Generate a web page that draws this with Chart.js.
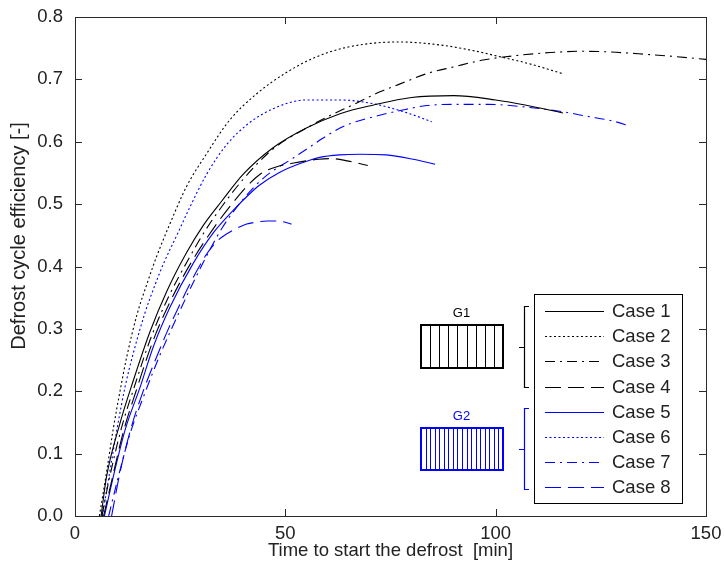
<!DOCTYPE html>
<html><head><meta charset="utf-8">
<script src="https://cdn.jsdelivr.net/npm/chart.js@4/dist/chart.umd.min.js"></script>
<style>html,body{margin:0;padding:0;background:#fff}#wrap{width:725px;height:567px;position:relative}</style>
</head><body><div id="wrap"><canvas id="c" width="725" height="567"></canvas></div>
<script>
// ---- data ----
const xTicks = [0, 50, 100, 150];
const yTicks = [0, 0.1, 0.2, 0.3, 0.4, 0.5, 0.6, 0.7, 0.8];
const caseNames = ['Case 1','Case 2','Case 3','Case 4','Case 5','Case 6','Case 7','Case 8'];
const groupNames = ['G1','G2'];
const xTitle = 'Time to start the defrost  [min]';
const yTitle = 'Defrost cycle efficiency [-]';

const case1T = [6.2,7.5,10.7,13.9,17.8,21.8,26.5,30.5,34.9,40,47,55,63,71,80,90,100,107,116];
const case1E = [0,0.063,0.149,0.218,0.295,0.36,0.422,0.466,0.505,0.548,0.59,0.622,0.645,0.659,0.671,0.674,0.667,0.659,0.646];
const case2T = [5.8,7.5,9.1,10.7,12.3,14.7,17.4,19.4,22.6,26.5,31.3,36.8,43.2,50,57,65,77,87,94,100.6,108,116];
const case2E = [0,0.07,0.14,0.2,0.255,0.322,0.378,0.416,0.469,0.528,0.581,0.635,0.677,0.71,0.735,0.752,0.76,0.755,0.747,0.737,0.725,0.709];
const case3T = [6.4,8,11,14,18,22,27,31,35,40,47,55,60,66,72.5,77,84,90,97,106,113,120,127,134,142,150];
const case3E = [0,0.055,0.14,0.205,0.285,0.348,0.412,0.458,0.497,0.54,0.588,0.622,0.64,0.659,0.68,0.692,0.71,0.72,0.731,0.739,0.743,0.745,0.744,0.741,0.737,0.732];
const case4T = [6.8,8.5,11.5,14.5,18.5,22.5,27.5,33,36.8,40.8,44,48,52,58,61,65,69.6];
const case4E = [0,0.05,0.135,0.2,0.28,0.342,0.405,0.462,0.496,0.528,0.548,0.56,0.566,0.572,0.573,0.569,0.562];
const case5T = [7,9,12,15.5,18.6,22.6,28.1,33,37.6,41.6,44,48.7,53.5,58.2,63,67.7,74,80.4,85.6];
const case5E = [0,0.06,0.14,0.207,0.271,0.335,0.405,0.455,0.49,0.517,0.531,0.551,0.565,0.575,0.579,0.58,0.579,0.572,0.564];
const case6T = [6.5,8,10,11.9,13.9,16.6,19,21,24.2,27.3,31.3,36,41.2,47.1,55,63,70.9,75.7,80.4,84.8];
const case6E = [0,0.06,0.14,0.207,0.262,0.325,0.37,0.404,0.45,0.495,0.548,0.595,0.629,0.653,0.667,0.667,0.661,0.653,0.643,0.632];
const case7T = [8,10,13,16.5,20,25,30,35,40,45,51.9,55.9,59,63,65.4,71.5,77.3,83.6,90,98,106.6,116,121.6,128,132];
const case7E = [0,0.055,0.13,0.195,0.255,0.33,0.4,0.462,0.508,0.543,0.574,0.592,0.606,0.622,0.629,0.641,0.65,0.658,0.66,0.66,0.656,0.648,0.641,0.633,0.625];
const case8T = [8.7,10.7,13.5,16.2,19.4,22.2,25,27.3,29.7,31.3,33.7,36,38.4,40.8,43,45.6,48,50,51.5];
const case8E = [0,0.07,0.145,0.2,0.255,0.3,0.34,0.372,0.402,0.42,0.44,0.452,0.461,0.468,0.471,0.473,0.473,0.471,0.468];

// ---- styles ----
const BLACK = '#000000', BLUE = '#0000ff';
const DOT = [2,2.5], DASHDOT = [10,5,2,5], DASH = [16,7], SOLID = [];
const series = [
  [case1T, case1E, BLACK, SOLID], [case2T, case2E, BLACK, DOT],
  [case3T, case3E, BLACK, DASHDOT], [case4T, case4E, BLACK, DASH],
  [case5T, case5E, BLUE, SOLID], [case6T, case6E, BLUE, DOT],
  [case7T, case7E, BLUE, DASHDOT], [case8T, case8E, BLUE, DASH]
];
const FONT = "'Liberation Sans', Arial, Helvetica, sans-serif";
const TXT = '#222222';

const datasets = series.map((s, i) => ({
  label: caseNames[i],
  data: s[0].map((t, k) => ({x: t, y: s[1][k]})),
  borderColor: s[2], borderDash: s[3], borderWidth: 1.1,
  pointRadius: 0, fill: false, cubicInterpolationMode: 'monotone'
}));

const framePlugin = {
  id: 'frame',
  afterDatasetsDraw(chart) {
    const {ctx, chartArea: a, scales: {x, y}} = chart;
    ctx.save();
    ctx.strokeStyle = '#2a2a2a'; ctx.lineWidth = 1; ctx.setLineDash([]);
    ctx.strokeRect(Math.round(a.left)+0.5, Math.round(a.top)+0.5, Math.round(a.right-a.left), Math.round(a.bottom-a.top));
    const L = 7;
    ctx.beginPath();
    xTicks.forEach(v => { const px = Math.round(x.getPixelForValue(v))+0.5;
      ctx.moveTo(px, a.bottom); ctx.lineTo(px, a.bottom-L);
      ctx.moveTo(px, a.top); ctx.lineTo(px, a.top+L); });
    yTicks.forEach(v => { const py = Math.round(y.getPixelForValue(v))+0.5;
      ctx.moveTo(a.left, py); ctx.lineTo(a.left+L, py);
      ctx.moveTo(a.right, py); ctx.lineTo(a.right-L, py); });
    ctx.stroke();

    // y axis title (positioned as in the reference)
    ctx.save();
    ctx.translate(19, 236); ctx.rotate(-Math.PI/2);
    ctx.font = '20px ' + FONT; ctx.fillStyle = TXT; ctx.textAlign = 'center'; ctx.textBaseline = 'middle';
    ctx.fillText(yTitle, 0, 0);
    ctx.restore();

    // legend box
    const bx = 534, by = 294, bw = 148, bh = 209;
    ctx.fillStyle = '#fff'; ctx.fillRect(bx, by, bw, bh);
    ctx.strokeStyle = '#000'; ctx.lineWidth = 1; ctx.strokeRect(bx+0.5, by+0.5, bw, bh);
    ctx.font = '18.5px ' + FONT; ctx.textBaseline = 'middle'; ctx.textAlign = 'left';
    series.forEach((s, i) => {
      const ry = 311 + i*25.2;
      ctx.strokeStyle = s[2]; ctx.lineWidth = 1.2; ctx.setLineDash(s[3]);
      ctx.beginPath(); ctx.moveTo(545, Math.round(ry)+0.5); ctx.lineTo(604, Math.round(ry)+0.5); ctx.stroke();
      ctx.fillStyle = TXT; ctx.fillText(caseNames[i], 612, ry+1);
    });
    ctx.setLineDash([]);

    // group icons and brackets
    const groups = [
      {c: BLACK, label: groupNames[0], ly: 313, top: 325, h: 43, n: 9, b1: 306, b2: 387},
      {c: BLUE, label: groupNames[1], ly: 416, top: 428, h: 42, n: 18, b1: 408, b2: 489}
    ];
    groups.forEach(g => {
      ctx.fillStyle = g.c; ctx.font = '13px ' + FONT; ctx.textAlign = 'center';
      ctx.fillText(g.label, 461.5, g.ly);
      ctx.strokeStyle = g.c; ctx.lineWidth = 2;
      ctx.strokeRect(421, g.top, 82, g.h);
      ctx.lineWidth = 1;
      ctx.beginPath();
      for (let k = 1; k < g.n; k++) { const px = Math.round(421 + 82*k/g.n)+0.5; ctx.moveTo(px, g.top); ctx.lineTo(px, g.top+g.h); }
      ctx.stroke();
      ctx.lineWidth = 1.2;
      ctx.beginPath();
      ctx.moveTo(529, g.b1+0.5); ctx.lineTo(524.5, g.b1+0.5); ctx.lineTo(524.5, g.b2+0.5); ctx.lineTo(529, g.b2+0.5);
      const mid = Math.round((g.b1+g.b2)/2)+0.5;
      ctx.moveTo(524.5, mid); ctx.lineTo(519, mid);
      ctx.stroke();
    });
    ctx.restore();
  }
};

new Chart(document.getElementById('c'), {
  type: 'line',
  data: {datasets},
  options: {
    responsive: false, animation: false, events: [],
    layout: {padding: {top: 17, right: 19, left: 0, bottom: 0}},
    plugins: {legend: {display: false}, tooltip: {enabled: false}},
    scales: {
      x: {
        type: 'linear', min: 0, max: 150,
        afterBuildTicks: s => { s.ticks = xTicks.map(v => ({value: v})); },
        afterFit: s => { s.height = 51; s.paddingLeft = 0; s.paddingRight = 0; },
        grid: {display: false, drawTicks: false}, border: {display: false},
        ticks: {padding: 7, color: TXT, font: {family: FONT, size: 18.5}, maxRotation: 0, callback: v => String(v)},
        title: {display: true, text: xTitle, color: TXT, font: {family: FONT, size: 18.5}, padding: {top: 0, bottom: 5}}
      },
      y: {
        type: 'linear', min: 0, max: 0.8,
        afterBuildTicks: s => { s.ticks = yTicks.map(v => ({value: v})); },
        afterFit: s => { s.width = 75; s.paddingTop = 0; s.paddingBottom = 0; },
        grid: {display: false, drawTicks: false}, border: {display: false},
        ticks: {padding: 12, color: TXT, font: {family: FONT, size: 18.5}, callback: v => Number(v).toFixed(1)},
        title: {display: false}
      }
    }
  },
  plugins: [framePlugin]
});
</script></body></html>
